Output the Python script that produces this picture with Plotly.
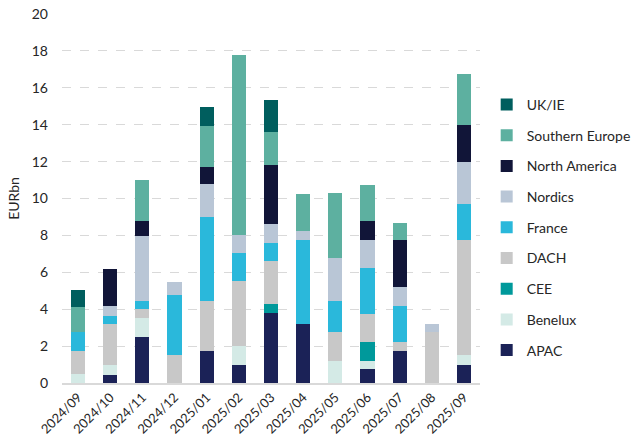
import plotly.graph_objects as go

months = ["2024/09", "2024/10", "2024/11", "2024/12", "2025/01", "2025/02", "2025/03",
          "2025/04", "2025/05", "2025/06", "2025/07", "2025/08", "2025/09"]

apac     = [0.00, 0.45, 2.48, 0.00, 1.72, 0.96, 3.78, 3.20, 0.00, 0.76, 1.72, 0.00, 0.98]
benelux  = [0.47, 0.54, 1.02, 0.00, 0.00, 1.06, 0.00, 0.00, 1.21, 0.45, 0.00, 0.00, 0.54]
cee      = [0.00, 0.00, 0.00, 0.00, 0.00, 0.00, 0.52, 0.00, 0.00, 1.03, 0.00, 0.00, 0.00]
dach     = [1.28, 2.23, 0.53, 1.50, 2.74, 3.49, 2.33, 0.00, 1.55, 1.50, 0.52, 2.76, 6.21]
france   = [1.01, 0.43, 0.43, 3.25, 4.52, 1.54, 0.94, 4.53, 1.70, 2.49, 1.92, 0.00, 1.99]
nordics  = [0.00, 0.54, 3.49, 0.74, 1.79, 0.97, 1.05, 0.53, 2.32, 1.50, 1.04, 0.46, 2.24]
n_america = [0.00, 1.99, 0.81, 0.00, 0.96, 0.00, 3.18, 0.00, 0.00, 1.03, 2.53, 0.00, 2.01]
s_europe = [1.34, 0.00, 2.22, 0.00, 2.22, 9.78, 1.79, 1.98, 3.54, 1.99, 0.96, 0.00, 2.79]
uk_ie    = [0.96, 0.00, 0.00, 0.00, 1.03, 0.00, 1.77, 0.00, 0.00, 0.00, 0.00, 0.00, 0.00]

series = [
    ("APAC", apac, "#1B2257"),
    ("Benelux", benelux, "#D4EAE6"),
    ("CEE", cee, "#00999B"),
    ("DACH", dach, "#C8C8C8"),
    ("France", france, "#2AB8DB"),
    ("Nordics", nordics, "#B9C6D6"),
    ("North America", n_america, "#111538"),
    ("Southern Europe", s_europe, "#5DB0A0"),
    ("UK/IE", uk_ie, "#005E5E"),
]

font_family = "Lato, 'Open Sans', sans-serif"
text_color = "#262626"

fig = go.Figure()
n = len(series)
for i, (name, vals, color) in enumerate(series):
    fig.add_trace(go.Bar(
        x=months, y=vals, name=name, legendgroup=name,
        legendrank=n - i,
        marker=dict(color=color, line=dict(width=0)),
    ))

fig.update_layout(
    width=638, height=448,
    barmode="stack",
    bargap=0.56,
    plot_bgcolor="white", paper_bgcolor="white",
    margin=dict(l=62, r=158, t=14, b=65, autoexpand=False),
    font=dict(family=font_family, size=13, color=text_color),
    legend=dict(
        x=1.016, y=0.797, xanchor="left", yanchor="top",
        traceorder="grouped", tracegroupgap=9.5,
        font=dict(size=14, color=text_color),
        itemwidth=30,
    ),
    xaxis=dict(
        tickangle=-45, showgrid=False, automargin=False,
        showline=True, linecolor="#D9D9D9", linewidth=1.5,
        ticks="", tickfont=dict(size=13, color=text_color),
    ),
    yaxis=dict(
        range=[0, 20], dtick=2, automargin=False,
        showgrid=True, gridcolor="#D9D9D9", griddash="dash", gridwidth=1,
        zeroline=False, showline=False, ticks="",
        ticklabelstandoff=13,
        tickfont=dict(size=14, color=text_color),
        title=dict(text="EURbn", font=dict(size=14, color=text_color), standoff=8),
    ),
)

fig.write_html("out.html", config={"displayModeBar": False},
               post_script="document.body.style.margin='0px';")
